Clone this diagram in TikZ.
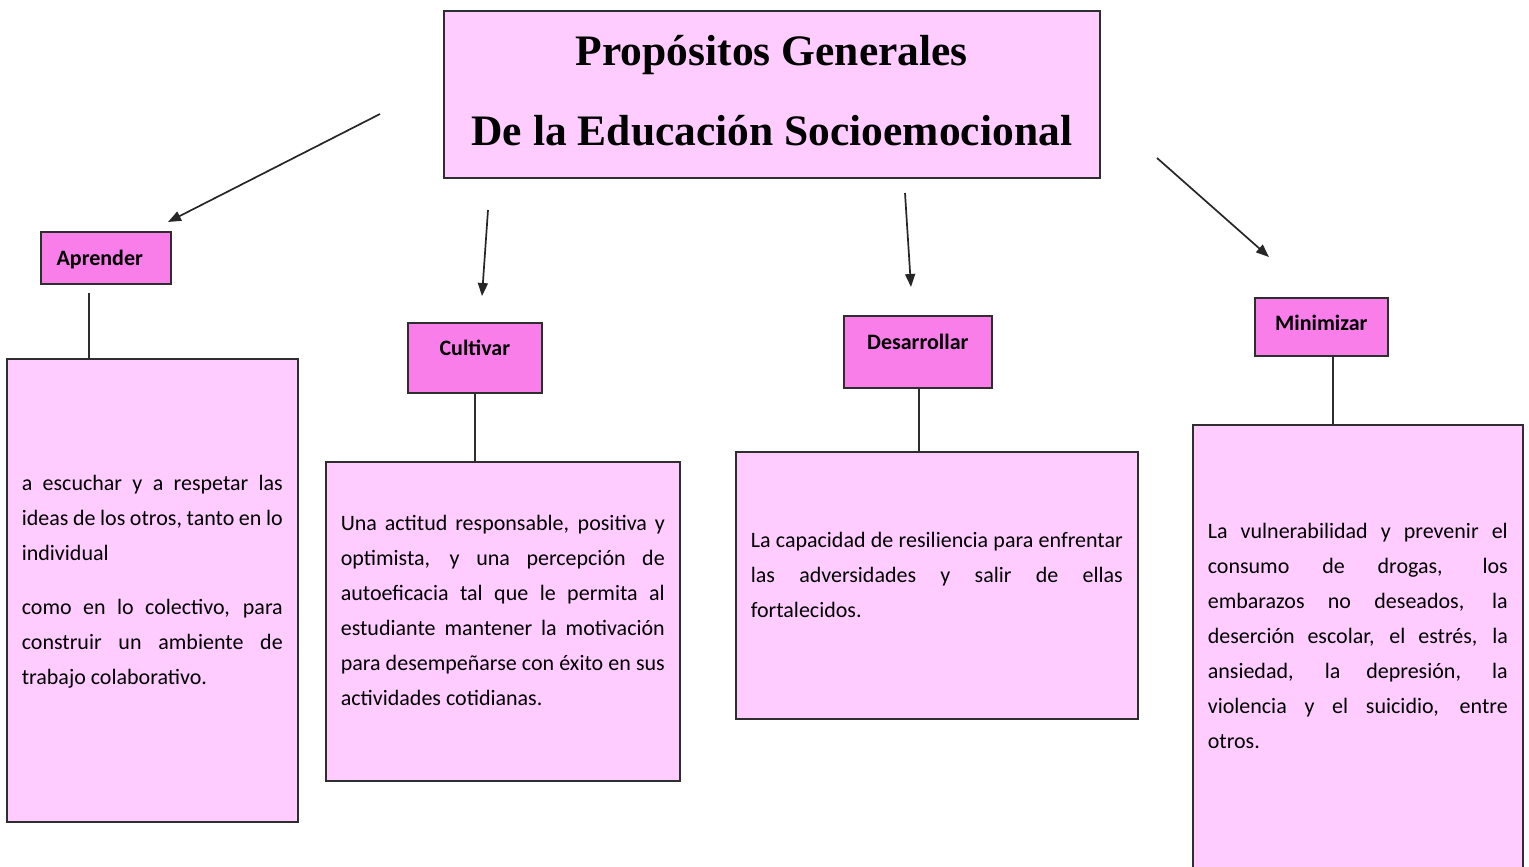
\documentclass[tikz,border=0pt]{standalone}
\usepackage{fontspec}
\setmainfont{Carlito}
\newfontfamily\titlefont{Liberation Serif}
\usetikzlibrary{arrows.meta}
\definecolor{lightpink}{HTML}{FFCCFF}
\definecolor{labelpink}{HTML}{F97EEA}
\definecolor{edgecol}{HTML}{2E2E2E}
\newcommand\txtpar[4]{\parbox[c][#2][t]{#1}{\sloppy\hyphenpenalty=10000\relax\vspace*{#3}\prevdepth=0pt #4}}
\begin{document}
\begin{tikzpicture}[x=1pt,y=-1pt,
  titlebox/.style={draw=edgecol, line width=1.6pt, fill=lightpink, rectangle, anchor=north west, align=center,
    font=\titlefont\bfseries\fontsize{43.5}{80}\selectfont},
  txtbox/.style={draw=edgecol, line width=1.6pt, fill=lightpink, rectangle, inner xsep=15pt, inner ysep=0pt,
    anchor=north west, font=\fontsize{22}{35}\selectfont},
  lab/.style={draw=edgecol, line width=1.6pt, fill=labelpink, rectangle, anchor=north west, inner sep=0pt,
    font=\bfseries\fontsize{22}{26}\selectfont, text height=16pt},
  conn/.style={draw=edgecol, line width=1.6pt},
  arr/.style={draw=black!85, line width=1.7pt, -{Triangle[length=13pt,width=10pt]}}]
\useasboundingbox (0,0) rectangle (1529,867);

\node[titlebox, minimum width=656pt, minimum height=167pt] (title) at (443,10)
  {Propósitos Generales\\De la Educación Socioemocional\rule[-7pt]{0pt}{7pt}};

\node[lab, minimum width=130pt, minimum height=52pt, text depth=0pt] (apr) at (40,231) {\hspace*{-12pt}Aprender};
\node[lab, minimum width=134pt, minimum height=70pt, text depth=20pt] (cul) at (407,322) {Cultivar};
\node[lab, minimum width=148pt, minimum height=72pt, text depth=20pt] (des) at (843,315) {Desarrollar};
\node[lab, minimum width=133pt, minimum height=58pt, text depth=8pt] (min) at (1254,297) {Minimizar};

\node[txtbox] (apt) at (6,358) {\txtpar{261pt}{463pt}{97pt}{a escuchar y a respetar las\linebreak
ideas de los otros, tanto en lo\linebreak individual\par\vspace{19pt}como en lo colectivo, para\linebreak
construir un ambiente de\linebreak trabajo colaborativo.}};

\node[txtbox] (cut) at (325,461) {\txtpar{324pt}{319pt}{34pt}{Una actitud responsable, positiva y\linebreak
optimista, y una percepción de\linebreak autoeficacia tal que le permita al\linebreak
estudiante mantener la motivación\linebreak para desempeñarse con éxito en sus\linebreak actividades cotidianas.}};

\node[txtbox] (det) at (735,451) {\txtpar{372pt}{267pt}{61pt}{La capacidad de resiliencia para enfrentar\linebreak
las adversidades y salir de ellas\linebreak fortalecidos.}};

\node[txtbox] (mit) at (1192,424) {\txtpar{300pt}{470pt}{79pt}{La vulnerabilidad y prevenir el\linebreak
consumo de drogas, los\linebreak embarazos no deseados, la\linebreak deserción escolar, el estrés, la\linebreak
ansiedad, la depresión, la\linebreak violencia y el suicidio, entre\linebreak otros.}};

\coordinate (aprb) at ([xshift=-17pt,yshift=-8pt]apr.south);
\draw[conn] (aprb) -- (aprb |- apt.north);
\draw[conn] (cul.south) -- (cul.south |- cut.north);
\coordinate (desb) at ([xshift=1pt]des.south);
\draw[conn] (desb) -- (desb |- det.north);
\coordinate (minb) at ([xshift=11.5pt]min.south);
\draw[conn] (minb) -- (minb |- mit.north);

\coordinate (a1s) at (380,114); \coordinate (a1e) at (168,222);
\coordinate (a2s) at (488,210); \coordinate (a2e) at (482,296);
\coordinate (a3s) at (905,193); \coordinate (a3e) at (911,287);
\coordinate (a4s) at (1157,158); \coordinate (a4e) at (1269,257);
\draw[arr] (a1s) -- (a1e);
\draw[arr] (a2s) -- (a2e);
\draw[arr] (a3s) -- (a3e);
\draw[arr] (a4s) -- (a4e);
\end{tikzpicture}
\end{document}
